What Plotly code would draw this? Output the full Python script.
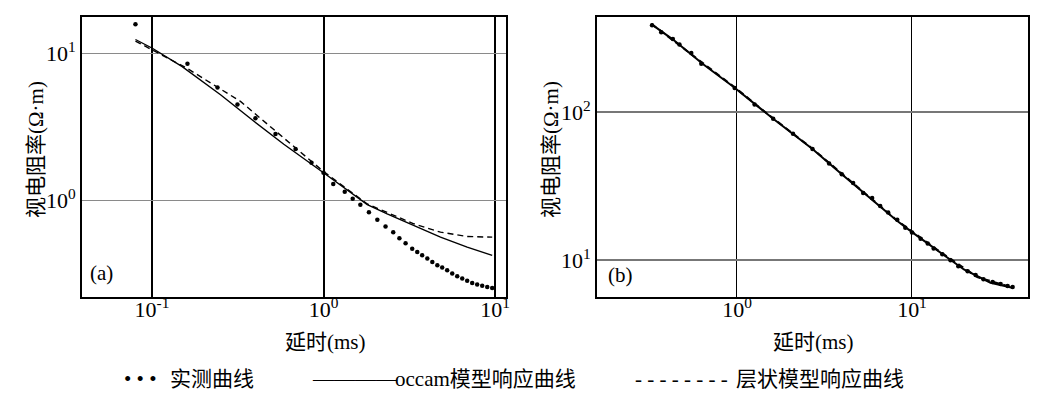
import plotly.graph_objects as go

# ---------------- data: panel (a) ----------------
meas_a_t = [0.0801, 0.161, 0.241, 0.315, 0.401, 0.525, 0.687, 0.851, 1.0, 1.14, 1.33, 1.48,
            1.64, 1.84, 2.06, 2.30, 2.55, 2.77, 3.01, 3.29, 3.52, 3.76, 4.03, 4.31, 4.61,
            4.92, 5.26, 5.63, 6.02, 6.44, 6.88, 7.36, 7.87, 8.42, 9.01, 9.63]
meas_a_rho = [15.9, 8.56, 5.89, 4.52, 3.64, 2.84, 2.25, 1.81, 1.55, 1.30, 1.15, 1.03,
              0.94, 0.834, 0.741, 0.667, 0.611, 0.556, 0.514, 0.472, 0.448, 0.425, 0.404,
              0.383, 0.364, 0.351, 0.337, 0.320, 0.306, 0.296, 0.285, 0.276, 0.269, 0.264,
              0.259, 0.255]
occam_a_t = [0.0801, 0.1005, 0.150, 0.251, 0.393, 0.587, 1.0, 1.80, 2.35, 3.36, 4.81, 6.88, 9.63]
occam_a_rho = [12.5, 10.9, 8.17, 5.26, 3.47, 2.42, 1.55, 0.94, 0.813, 0.678, 0.565, 0.483, 0.425]
layer_a_t = [0.0801, 0.160, 0.328, 0.734, 1.0, 1.80, 2.35, 3.36, 4.81, 6.88, 9.63]
layer_a_rho = [12.2, 7.96, 4.74, 2.12, 1.58, 0.95, 0.834, 0.697, 0.611, 0.571, 0.565]

# ---------------- data: panel (b) ----------------
meas_b_t = [0.327, 0.369, 0.430, 0.469, 0.548, 0.625, 0.970, 1.26, 1.61, 2.09, 2.70, 3.36,
            3.97, 4.61, 5.26, 5.92, 6.58, 7.31, 8.24, 9.16, 10.0, 11.2, 12.3, 13.3, 14.9,
            16.6, 18.4, 20.8, 23.1, 25.6, 28.9, 32.1, 35.2, 37.6]
meas_b_rho = [388, 347, 313, 287, 252, 213, 146, 113, 90.4, 71.6, 56.5, 45.1, 38.1, 33.3,
              28.5, 26.4, 23.3, 21.0, 18.8, 16.6, 15.4, 14.0, 13.0, 12.0, 11.0, 10.0, 9.12,
              8.44, 7.94, 7.46, 7.13, 6.91, 6.70, 6.59]
occam_b_t = [0.324, 0.431, 0.641, 0.953, 1.61, 2.70, 3.97, 5.77, 8.21, 10.0, 13.9, 19.8, 28.1, 37.5]
occam_b_rho = [394, 310, 211, 149, 90.4, 56.5, 38.1, 26.1, 18.5, 15.5, 11.7, 8.67, 7.05, 6.52]
layer_b_t = [0.324, 0.503, 0.953, 1.61, 2.70, 4.59, 8.21, 13.9, 23.6, 37.5]
layer_b_rho = [396, 268, 150, 91.0, 56.8, 33.3, 18.6, 11.8, 7.70, 6.55]

x_a_ticks = [0.1, 1, 10]
x_a_text = ["10<sup>-1</sup>", "10<sup>0</sup>", "10<sup>1</sup>"]
y_a_ticks = [1, 10]
y_a_text = ["10<sup>0</sup>", "10<sup>1</sup>"]
x_b_ticks = [1, 10]
x_b_text = ["10<sup>0</sup>", "10<sup>1</sup>"]
y_b_ticks = [10, 100]
y_b_text = ["10<sup>1</sup>", "10<sup>2</sup>"]

legend_symbols = ["• • •", "————", "- - - - - - - -"]
legend_labels = ["实测曲线", "occam模型响应曲线", "层状模型响应曲线"]
xtitle = "延时(ms)"
ytitle = "视电阻率(Ω·m)"

FONT = "Liberation Serif, Noto Sans CJK SC, serif"
OFF = 8  # page body margin
W, H = 1041, 390
ML, MR, MT, MB = 12, 12, 7, 101
PW, PH = W - ML - MR, H - MT - MB


def px_x(p):
    return (p - OFF - ML) / PW


def px_y(p):
    return (H - MB - (p - OFF)) / PH


fig = go.Figure()


def add_panel(xa, ya, mt, mr, ot, orr, lt, lr, lw, ms):
    fig.add_trace(go.Scatter(x=ot, y=orr, mode="lines", xaxis=xa, yaxis=ya,
                             line=dict(color="black", width=lw), showlegend=False))
    fig.add_trace(go.Scatter(x=lt, y=lr, mode="lines", xaxis=xa, yaxis=ya,
                             line=dict(color="black", width=lw, dash="6px,4px"), showlegend=False))
    fig.add_trace(go.Scatter(x=mt, y=mr, mode="markers", xaxis=xa, yaxis=ya,
                             marker=dict(color="black", size=ms), showlegend=False))


add_panel("x", "y", meas_a_t, meas_a_rho, occam_a_t, occam_a_rho, layer_a_t, layer_a_rho, 1.4, 4.5)
add_panel("x2", "y2", meas_b_t, meas_b_rho, occam_b_t, occam_b_rho, layer_b_t, layer_b_rho, 2.0, 4.5)

axis_common = dict(type="log", showline=True, linecolor="black", linewidth=2, mirror=True,
                   ticks="", tickfont=dict(family=FONT, size=22, color="black"))

fig.update_layout(
    width=W, height=H,
    margin=dict(l=ML, r=MR, t=MT, b=MB),
    paper_bgcolor="white", plot_bgcolor="white",
    font=dict(family=FONT, color="black", size=21),
    showlegend=False,
    xaxis=dict(domain=[px_x(82), px_x(506)], range=[-1.408, 1.064], anchor="y",
               tickvals=x_a_ticks, ticktext=x_a_text, showgrid=True, gridcolor="black",
               gridwidth=1.5, ticklabelstandoff=-8, **axis_common),
    yaxis=dict(domain=[0, 1], range=[-0.655, 1.25], anchor="x",
               tickvals=y_a_ticks, ticktext=y_a_text, showgrid=True, gridcolor="#8a8a8a",
               gridwidth=1, **axis_common),
    xaxis2=dict(domain=[px_x(597), px_x(1028)], range=[-0.8, 1.663], anchor="y2",
                tickvals=x_b_ticks, ticktext=x_b_text, showgrid=True, gridcolor="black",
                gridwidth=1.3, ticklabelstandoff=-8, **axis_common),
    yaxis2=dict(domain=[0, 1], range=[0.752, 2.644], anchor="x2",
                tickvals=y_b_ticks, ticktext=y_b_text, showgrid=True, gridcolor="#777777",
                gridwidth=1.5, **axis_common),
)

ann = []
# panel labels
ann.append(dict(text="(a)", xref="x domain", yref="y domain", x=0.014, y=0.085,
                xanchor="left", yanchor="middle", showarrow=False, font=dict(size=21)))
ann.append(dict(text="(b)", xref="x2 domain", yref="y2 domain", x=0.021, y=0.078,
                xanchor="left", yanchor="middle", showarrow=False, font=dict(size=21)))
# axis titles
ann.append(dict(text=xtitle, xref="paper", yref="paper", x=px_x(325), y=px_y(342),
                xanchor="center", yanchor="middle", showarrow=False, font=dict(size=21)))
ann.append(dict(text=xtitle, xref="paper", yref="paper", x=px_x(813), y=px_y(342),
                xanchor="center", yanchor="middle", showarrow=False, font=dict(size=21)))
ann.append(dict(text=ytitle, xref="paper", yref="paper", x=px_x(36), y=px_y(149),
                xanchor="center", yanchor="middle", textangle=-90, showarrow=False,
                font=dict(size=21)))
ann.append(dict(text=ytitle, xref="paper", yref="paper", x=px_x(551), y=px_y(149),
                xanchor="center", yanchor="middle", textangle=-90, showarrow=False,
                font=dict(size=21)))
# legend (text based)
for sym, xs in zip(legend_symbols, [122, 310, 633]):
    ann.append(dict(text=sym, xref="paper", yref="paper", x=px_x(xs), y=px_y(380),
                    xanchor="left", yanchor="middle", showarrow=False,
                    font=dict(size=21)))
for lab, xt in zip(legend_labels, [168, 393, 734]):
    ann.append(dict(text=lab, xref="paper", yref="paper", x=px_x(xt), y=px_y(380),
                    xanchor="left", yanchor="middle", showarrow=False,
                    font=dict(size=21)))
fig.update_layout(annotations=ann)

fig.write_html("out.html")
